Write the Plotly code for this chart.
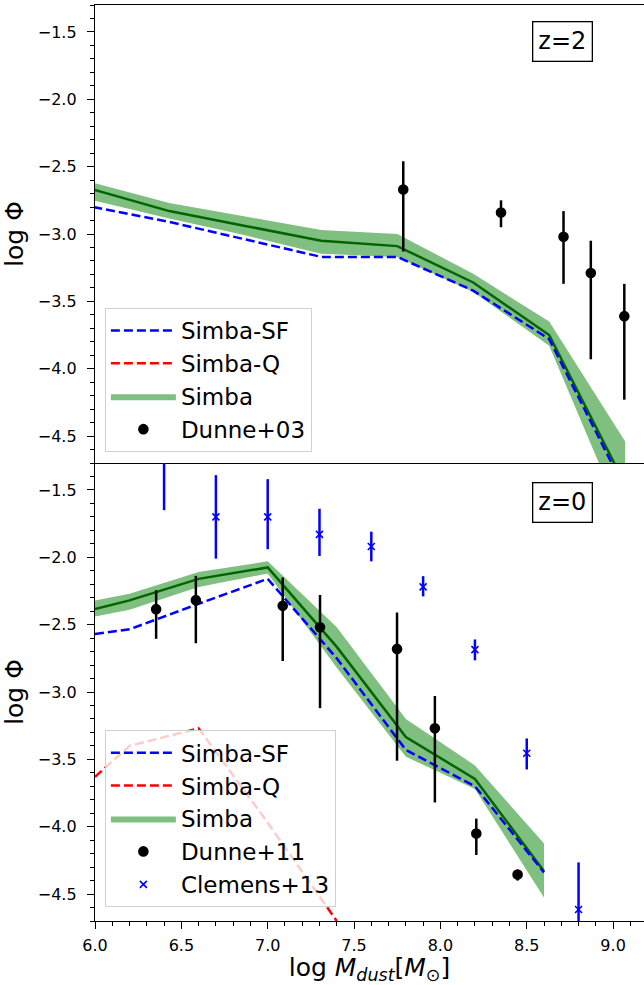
import plotly.graph_objects as go
from plotly.subplots import make_subplots

# --- z=2 panel (top) ---
mz2 = [5.99, 6.43, 6.87, 7.31, 7.75, 8.19, 8.63, 9.07]
simba_z2 = [-2.67, -2.83, -2.94, -3.05, -3.09, -3.36, -3.75, -4.86]
simba_z2_hi = [-2.62, -2.77, -2.87, -2.97, -3.00, -3.295, -3.65, -4.54]
simba_z2_lo = [-2.75, -2.885, -3.01, -3.146, -3.17, -3.43, -3.83, -5.16]
sf_z2 = [-2.80, -2.91, -3.04, -3.17, -3.17, -3.42, -3.78, -4.90]

d03_x = [7.785, 8.351, 8.713, 8.871, 9.065]
d03_y = [-2.67, -2.84, -3.02, -3.29, -3.61]
d03_up = [0.21, 0.09, 0.19, 0.24, 0.24]
d03_dn = [0.46, 0.11, 0.35, 0.64, 0.62]

# --- z=0 panel (bottom) ---
mz0 = [6.0, 6.2, 6.6, 7.0, 7.4, 7.8, 8.2, 8.6]
simba_z0 = [-2.385, -2.32, -2.16, -2.075, -2.665, -3.335, -3.645, -4.33]
simba_z0_hi = [-2.32, -2.27, -2.11, -2.03, -2.52, -3.20, -3.545, -4.125]
simba_z0_lo = [-2.44, -2.39, -2.22, -2.12, -2.82, -3.48, -3.72, -4.525]
sf_z0 = [-2.57, -2.535, -2.345, -2.16, -2.75, -3.43, -3.70, -4.34]
q_x = [6.0, 6.2, 6.6, 7.0, 7.4]
q_z0 = [-3.63, -3.40, -3.27, -3.97, -4.70]

d11_x = [6.354, 6.584, 7.087, 7.303, 7.749, 7.968, 8.208, 8.447]
d11_y = [-2.385, -2.318, -2.36, -2.52, -2.68, -3.27, -4.05, -4.355]
d11_up = [0.14, 0.18, 0.21, 0.24, 0.27, 0.24, 0.11, 0.035]
d11_dn = [0.22, 0.32, 0.41, 0.60, 0.83, 0.55, 0.16, 0.045]

c13_x = [6.4, 6.7, 7.0, 7.3, 7.6, 7.9, 8.2, 8.5, 8.8]
c13_y = [-1.25, -1.70, -1.70, -1.83, -1.92, -2.22, -2.685, -3.455, -4.615]
c13_up = [0.30, 0.31, 0.28, 0.19, 0.11, 0.08, 0.075, 0.11, 0.35]
c13_dn = [0.40, 0.31, 0.24, 0.16, 0.11, 0.07, 0.08, 0.12, 0.35]

FONT = "DejaVu Sans"
band_col = "rgba(0,128,0,0.5)"
dash = "9px,4px"

fig = make_subplots(rows=2, cols=1, shared_xaxes=True, vertical_spacing=0)


def add_panel(row, leg, mx, simba, hi, lo, sf, qx, qy, pts):
    fig.add_trace(go.Scatter(x=mx, y=lo, mode="lines", line=dict(width=0),
                             showlegend=False, hoverinfo="skip", legend=leg), row=row, col=1)
    fig.add_trace(go.Scatter(x=mx, y=hi, mode="lines", line=dict(width=0),
                             fill="tonexty", fillcolor=band_col, name="Simba",
                             legend=leg, legendrank=3), row=row, col=1)
    fig.add_trace(go.Scatter(x=mx, y=simba, mode="lines", line=dict(color="#006400", width=2.5),
                             showlegend=False, legend=leg), row=row, col=1)
    fig.add_trace(go.Scatter(x=mx, y=sf, mode="lines", name="Simba-SF",
                             line=dict(color="blue", width=2.5, dash=dash),
                             legend=leg, legendrank=1), row=row, col=1)
    fig.add_trace(go.Scatter(x=qx, y=qy, mode="lines", name="Simba-Q",
                             line=dict(color="red", width=2.5, dash=dash),
                             legend=leg, legendrank=2), row=row, col=1)
    for i, (name, px_, py_, up, dn, col, sym, size) in enumerate(pts):
        fig.add_trace(go.Scatter(
            x=px_, y=py_, mode="markers", name=name, legend=leg, legendrank=4 + i,
            marker=dict(color=col, symbol=sym, size=size,
                        line=dict(color=col, width=1.6)),
            error_y=dict(type="data", symmetric=False, array=up, arrayminus=dn,
                         color=col, thickness=2.5, width=0)), row=row, col=1)


add_panel(1, "legend", mz2, simba_z2, simba_z2_hi, simba_z2_lo, sf_z2, [None], [None],
          [("Dunne+03", d03_x, d03_y, d03_up, d03_dn, "black", "circle", 9)])
add_panel(2, "legend2", mz0, simba_z0, simba_z0_hi, simba_z0_lo, sf_z0, q_x, q_z0,
          [("Dunne+11", d11_x, d11_y, d11_up, d11_dn, "black", "circle", 9),
           ("Clemens+13", c13_x, c13_y, c13_up, c13_dn, "blue", "x-thin", 7)])

axis_common = dict(showline=True, linecolor="black", linewidth=1.3, ticks="outside",
                   ticklen=7, tickwidth=1.3, tickcolor="black", showgrid=False, zeroline=False,
                   tickfont=dict(family=FONT, size=16, color="black"),
                   minor=dict(dtick=0.1, ticks="outside", ticklen=4, tickwidth=1, tickcolor="black"))

fig.update_xaxes(range=[6.0, 9.179], dtick=0.5, tick0=6.0, tickformat=".1f",
                 ticklabelstandoff=3, **axis_common)
fig.update_xaxes(mirror=True, showticklabels=False, ticks="", minor=dict(ticks=""), row=1, col=1)
fig.update_xaxes(title=dict(text="log <i>M<sub>dust</sub></i>[<i>M</i><sub>⊙</sub>]",
                            font=dict(family=FONT, size=25, color="black"), standoff=6),
                 row=2, col=1)
fig.update_yaxes(range=[-4.7, -1.3], dtick=0.5, tick0=-1.5, tickformat=".1f",
                 ticklabelstandoff=7,
                 title=dict(text="log Φ", font=dict(family=FONT, size=25, color="black"), standoff=8),
                 **axis_common)

box = dict(showarrow=False, bordercolor="black", borderwidth=1.3, borderpad=5,
           bgcolor="white", font=dict(family=FONT, size=24, color="black"),
           xanchor="center", yanchor="middle")
fig.add_annotation(text="z=2", xref="x domain", yref="y domain", x=0.851, y=0.921, **box)
fig.add_annotation(text="z=0", xref="x2 domain", yref="y2 domain", x=0.851, y=0.913, **box)

leg_style = dict(bgcolor="rgba(255,255,255,0.8)", bordercolor="#d0d0d0", borderwidth=1,
                 font=dict(family=FONT, size=23, color="black"), xanchor="left", yanchor="bottom",
                 tracegroupgap=0, traceorder="normal", itemwidth=65)
fig.update_layout(
    width=644, height=985,
    margin=dict(l=95, r=0, t=5, b=64),
    plot_bgcolor="white", paper_bgcolor="white",
    font=dict(family=FONT, color="black"),
    legend=dict(x=0.018, y=0.512, **leg_style),
    legend2=dict(x=0.018, y=0.015, **leg_style),
)

fig.write_html("out.html", config={"displayModeBar": False},
               post_script="document.body.style.margin='0px';")
